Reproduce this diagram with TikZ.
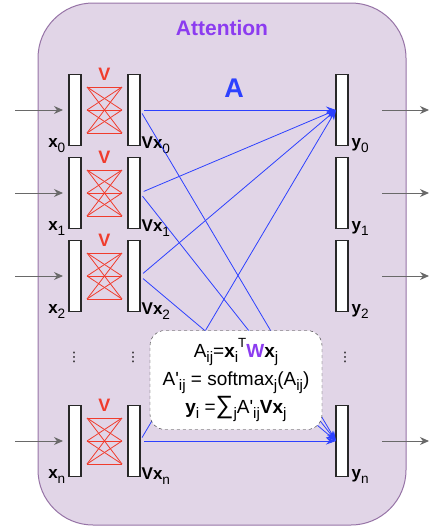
\documentclass[tikz,border=0pt]{standalone}
\usepackage{fontspec}
\setmainfont{Liberation Sans}
\newfontfamily\symfont{DejaVu Sans}
\usetikzlibrary{positioning,arrows.meta,calc}
\definecolor{attnfill}{RGB}{225,213,231}
\definecolor{attnline}{RGB}{150,115,166}
\definecolor{wpurple}{RGB}{140,60,240}
\definecolor{attnblue}{RGB}{45,65,255}
\definecolor{mixred}{RGB}{240,60,45}
\definecolor{barline}{RGB}{40,40,40}
\definecolor{arrowgray}{RGB}{105,105,105}
\newcommand{\sbx}[1]{\raisebox{-0.28em}{\scalebox{0.8}{#1}}}
\newcommand{\spx}[1]{\raisebox{0.5em}{\scalebox{0.7}{#1}}}
\tikzset{
  bar/.style={draw=barline,fill=white,line width=1.2pt,minimum width=12pt,
    minimum height=71pt,inner sep=0pt,outer sep=0pt},
  veclab/.style={font=\fontsize{17}{17}\selectfont,inner sep=1.5pt},
  vlabel/.style={text=mixred,font=\fontsize{18}{18}\selectfont\bfseries,inner sep=0pt},
  mixline/.style={draw=mixred,line width=0.8pt},
  dotsv/.style={font=\symfont\fontsize{13}{13}\selectfont,inner sep=0pt},
  inflow/.style={-{Stealth[length=9pt,width=8pt]},draw=arrowgray,line width=1pt},
  attn/.style={-{Stealth[length=10pt,width=7pt]},draw=attnblue,line width=0.8pt,shorten <=4pt},
  formula/.style={draw=barline,fill=white,dashed,rounded corners=15pt,align=center,
    font=\fontsize{19}{28}\selectfont,minimum width=172pt,minimum height=99pt,inner sep=1pt},
  vmix/.pic={
    \foreach \a in {-23,0,23}
      \foreach \b in {-23,0,23}
        \draw[mixline] (-17.5,\a) -- (17.5,\b);
    \node[vlabel] at (0,-36) {V};
  },
}
\begin{document}
\begin{tikzpicture}[x=1pt,y=-1pt,node distance=12pt and 47pt]
  \useasboundingbox (0,0) rectangle (431,528);
  \draw[fill=attnfill,draw=attnline,line width=1pt,rounded corners=55pt] (38,3) rectangle (406,525);
  \node[text=wpurple,font=\fontsize{21}{21}\selectfont\bfseries] (title) at (222,28) {Attention};
  \node[text=attnblue,font=\fontsize{27}{27}\selectfont\bfseries] (alab) at (234,88) {A};

  % input vectors
  \node[bar] (x0) at (75,110) {};
  \node[bar,below=of x0] (x1) {};
  \node[bar,below=of x1] (x2) {};
  \node[bar] (xn) at (75,441) {};

  % transformed vectors
  \node[bar,right=of x0] (v0) {};
  \node[bar,right=of x1] (v1) {};
  \node[bar,right=of x2] (v2) {};
  \node[bar,right=of xn] (vn) {};

  % outputs
  \node[bar,right=196pt of v0] (y0) {};
  \node[bar,right=196pt of v1] (y1) {};
  \node[bar,right=196pt of v2] (y2) {};
  \node[bar,right=196pt of vn] (yn) {};

  \pic at ($(x0.east)!.5!(v0.west)$) {vmix};
  \pic at ($(x1.east)!.5!(v1.west)$) {vmix};
  \pic at ($(x2.east)!.5!(v2.west)$) {vmix};
  \pic at ($(xn.east)!.5!(vn.west)$) {vmix};

  \node[veclab,anchor=east] (lx0) at ([xshift=-2pt]x0.south west) {\textbf{x}\sbx{0}};
  \node[veclab,anchor=east] (lx1) at ([xshift=-2pt]x1.south west) {\textbf{x}\sbx{1}};
  \node[veclab,anchor=east] (lx2) at ([xshift=-2pt]x2.south west) {\textbf{x}\sbx{2}};
  \node[veclab,anchor=east] (lxn) at ([xshift=-2pt]xn.south west) {\textbf{x}\sbx{n}};
  \node[veclab,anchor=west] (lv0) at (v0.south east) {\textbf{Vx}\sbx{0}};
  \node[veclab,anchor=west] (lv1) at (v1.south east) {\textbf{Vx}\sbx{1}};
  \node[veclab,anchor=west] (lv2) at (v2.south east) {\textbf{Vx}\sbx{2}};
  \node[veclab,anchor=west] (lvn) at (vn.south east) {\textbf{Vx}\sbx{n}};
  \node[veclab,anchor=west] (ly0) at ([xshift=2pt]y0.south east) {\textbf{y}\sbx{0}};
  \node[veclab,anchor=west] (ly1) at ([xshift=2pt]y1.south east) {\textbf{y}\sbx{1}};
  \node[veclab,anchor=west] (ly2) at ([xshift=2pt]y2.south east) {\textbf{y}\sbx{2}};
  \node[veclab,anchor=west] (lyn) at ([xshift=2pt]yn.south east) {\textbf{y}\sbx{n}};

  \node[dotsv] (dx) at (74,357) {⋮};
  \node[dotsv] (dv) at (133,357) {⋮};
  \node[dotsv] (dy) at (345,357) {⋮};

  \coordinate[left=54pt of x0] (in0);
  \coordinate[left=54pt of x1] (in1);
  \coordinate[left=54pt of x2] (in2);
  \coordinate[left=54pt of xn] (inn);
  \coordinate[right=81pt of y0] (out0);
  \coordinate[right=81pt of y1] (out1);
  \coordinate[right=81pt of y2] (out2);
  \coordinate[right=81pt of yn] (outn);

  \draw[inflow,shorten >=6pt] (in0) -- (x0);
  \draw[inflow,shorten >=6pt] (in1) -- (x1);
  \draw[inflow,shorten >=6pt] (in2) -- (x2);
  \draw[inflow,shorten >=6pt] (inn) -- (xn);
  \draw[inflow,shorten <=34pt] (y0) -- (out0);
  \draw[inflow,shorten <=34pt] (y1) -- (out1);
  \draw[inflow,shorten <=34pt] (y2) -- (out2);
  \draw[inflow,shorten <=34pt] (yn) -- (outn);

  \draw[attn] (v0.east) -- (y0.west);
  \draw[attn] (v1.east) -- (y0.west);
  \draw[attn] (v2.east) -- (y0.west);
  \draw[attn] (vn.east) -- (y0.west);
  \draw[attn] (v0.east) -- (yn.west);
  \draw[attn] (v1.east) -- (yn.west);
  \draw[attn] (v2.east) -- (yn.west);
  \draw[attn] (vn.east) -- (yn.west);

  \node[formula] (eqs) at (236,380) {%
    A\sbx{ij}=\textbf{x}\sbx{i}\spx{T}\textcolor{wpurple}{\textbf{W}}\textbf{x}\sbx{j}\\
    A\textquotesingle\sbx{ij} = softmax\sbx{j}(A\sbx{ij})\\
    \textbf{y}\sbx{i} ={\fontsize{25}{25}\selectfont ∑}\sbx{j}A\textquotesingle\sbx{ij}\textbf{Vx}\sbx{j}};
\end{tikzpicture}
\end{document}
